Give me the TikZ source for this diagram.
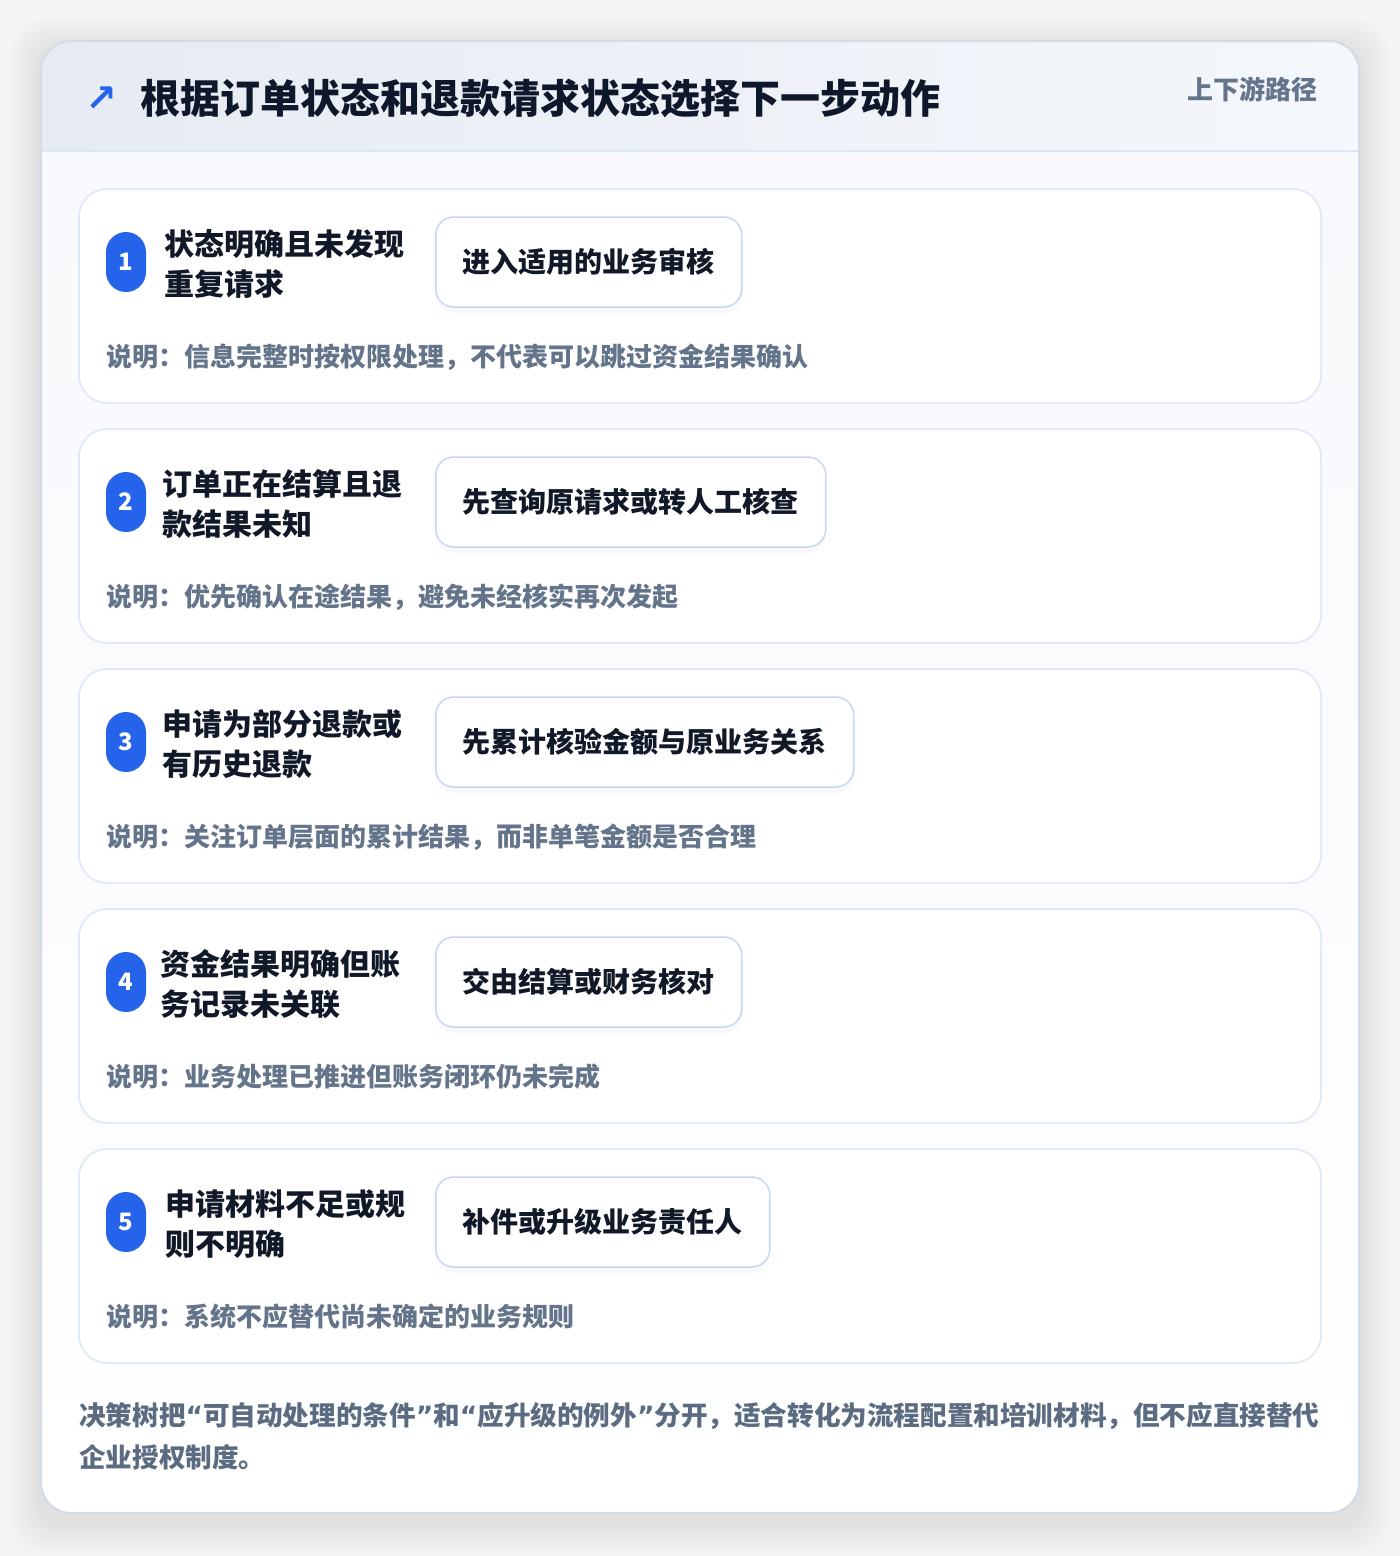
\documentclass[tikz,border=0pt]{standalone}
\usepackage{fontspec}
\setmainfont{Noto Sans CJK SC}
\newfontfamily\symfont{DejaVu Sans}
\usetikzlibrary{positioning,shadows,backgrounds}

\definecolor{pagebg}{HTML}{F4F4F5}
\definecolor{headleft}{HTML}{E6EBF3}
\definecolor{headright}{HTML}{F4F7FB}
\definecolor{bodybg}{HTML}{F7F9FC}
\definecolor{frameline}{HTML}{D3DBE6}
\definecolor{cardline}{HTML}{DCE7F6}
\definecolor{actline}{HTML}{C4D8F3}
\definecolor{badgeblue}{HTML}{2563EB}
\definecolor{titleink}{HTML}{0F172A}
\definecolor{condink}{HTML}{111827}
\definecolor{noteink}{HTML}{64748B}
\definecolor{footink}{HTML}{5B6B81}

\newcommand{\openq}{{\symfont\bfseries “}}
\newcommand{\closeq}{{\symfont\bfseries ”}}

\begin{document}
\begin{tikzpicture}[x=1pt, y=-1pt]
    \tikzstyle{card} = [rectangle, draw=cardline, line width=1.5pt, fill=white, rounded corners=28pt, minimum width=1242pt, minimum height=214pt, inner sep=0pt]
    \tikzstyle{badge} = [rectangle, fill=badgeblue, text=white, rounded corners=20pt, minimum width=40pt, minimum height=60pt, inner sep=0pt, font=\bfseries\fontsize{24}{28}\selectfont]
    \tikzstyle{cond} = [anchor=west, align=left, inner sep=0pt, text=condink, font=\bfseries\fontsize{30}{40}\selectfont]
    \tikzstyle{action} = [rectangle, draw=actline, line width=1.5pt, fill=white, rounded corners=18pt, anchor=west, minimum height=90pt, inner xsep=27pt, text=condink, font=\bfseries\fontsize{28}{34}\selectfont, drop shadow={shadow xshift=0pt, shadow yshift=-6pt, opacity=0.05}]
    \tikzstyle{note} = [anchor=west, inner sep=0pt, text=noteink, font=\bfseries\fontsize{26}{30}\selectfont]

    \useasboundingbox (0,0) rectangle (1400,1556);

    % Page and frame
    \fill[pagebg] (0,0) rectangle (1400,1556);
    \foreach \s in {3,6,...,30}
        \fill[black, opacity=0.008, rounded corners=30pt] (41-\s,49-\s) rectangle (1359+\s,1523+\s);
    \fill[white, rounded corners=30pt] (41,41) rectangle (1359,1513);
    \begin{scope}
        \clip[rounded corners=30pt] (41,41) rectangle (1359,1513);
        \shade[top color=bodybg, bottom color=white] (41,151) rectangle (1359,1513);
        \shade[left color=headleft, right color=headright] (41,41) rectangle (1359,151);
        \draw[cardline, line width=1.5pt] (41,151) -- (1359,151);
    \end{scope}
    \draw[frameline, line width=2pt, rounded corners=30pt] (41,41) rectangle (1359,1513);

    % Header
    \node[text=badgeblue, font=\symfont\bfseries\fontsize{38}{38}\selectfont] (icon) at (101,99) {↗};
    \node[anchor=west, inner sep=0pt, text=titleink, font=\bfseries\fontsize{40}{44}\selectfont] (title) at (140,98) {根据订单状态和退款请求状态选择下一步动作};
    \node[anchor=east, inner sep=0pt, text=noteink, font=\bfseries\fontsize{26}{30}\selectfont] (tag) at (1318,89) {上下游路径};

    % Card 1
    \node[card] (card1) at (700,296) {};
    \node[badge] (badge1) at (126,262) {1};
    \node[cond] (cond1) at (164,264) {状态明确且未发现\\重复请求};
    \node[action] (act1) at (435,262) {进入适用的业务审核};
    \node[note] (note1) at (106,357) {说明：信息完整时按权限处理，不代表可以跳过资金结果确认};

    % Card 2
    \node[card] (card2) at (700,536) {};
    \node[badge] (badge2) at (126,502) {2};
    \node[cond] (cond2) at (162,504) {订单正在结算且退\\款结果未知};
    \node[action] (act2) at (435,502) {先查询原请求或转人工核查};
    \node[note] (note2) at (106,597) {说明：优先确认在途结果，避免未经核实再次发起};

    % Card 3
    \node[card] (card3) at (700,776) {};
    \node[badge] (badge3) at (126,742) {3};
    \node[cond] (cond3) at (162,744) {申请为部分退款或\\有历史退款};
    \node[action] (act3) at (435,742) {先累计核验金额与原业务关系};
    \node[note] (note3) at (106,837) {说明：关注订单层面的累计结果，而非单笔金额是否合理};

    % Card 4
    \node[card] (card4) at (700,1016) {};
    \node[badge] (badge4) at (126,982) {4};
    \node[cond] (cond4) at (160,984) {资金结果明确但账\\务记录未关联};
    \node[action] (act4) at (435,982) {交由结算或财务核对};
    \node[note] (note4) at (106,1077) {说明：业务处理已推进但账务闭环仍未完成};

    % Card 5
    \node[card] (card5) at (700,1256) {};
    \node[badge] (badge5) at (126,1222) {5};
    \node[cond] (cond5) at (165,1224) {申请材料不足或规\\则不明确};
    \node[action] (act5) at (435,1222) {补件或升级业务责任人};
    \node[note] (note5) at (106,1317) {说明：系统不应替代尚未确定的业务规则};

    % Footer
    \node[anchor=west, align=left, inner sep=0pt, text=footink, font=\bfseries\fontsize{26.6}{42}\selectfont] (footer) at (79,1436) {决策树把\openq 可自动处理的条件\closeq 和\openq 应升级的例外\closeq 分开，适合转化为流程配置和培训材料，但不应直接替代\\企业授权制度。};

\end{tikzpicture}
\end{document}
